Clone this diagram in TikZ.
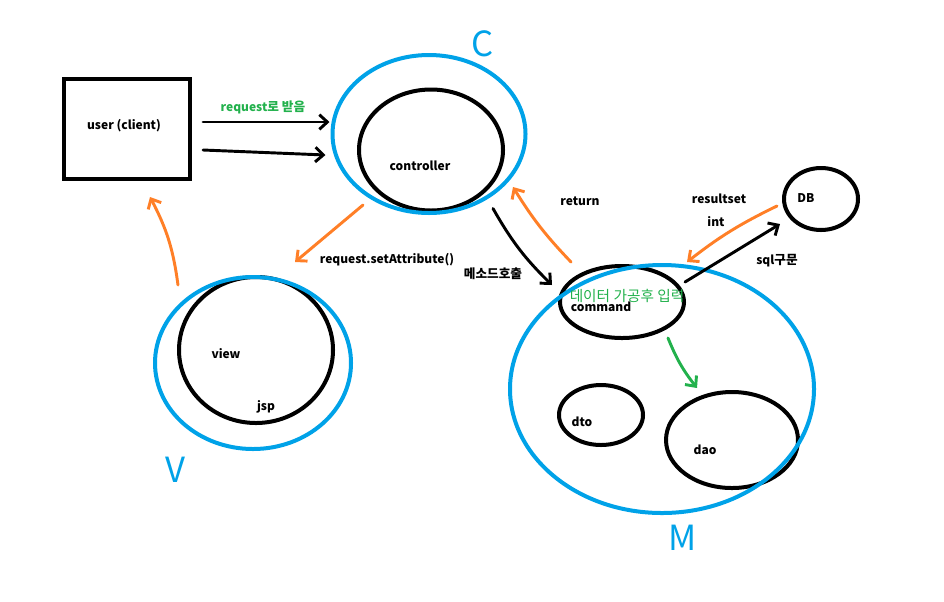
\documentclass[tikz,border=0pt]{standalone}
\usepackage{fontspec}
\setmainfont{Noto Sans CJK KR}
\usetikzlibrary{shapes.geometric,arrows.meta,calc}
\definecolor{paintblue}{RGB}{0,162,232}
\definecolor{paintorange}{RGB}{255,127,39}
\definecolor{paintgreen}{RGB}{34,177,76}
\newcommand{\kor}[1]{{\fontsize{9.5}{11}\selectfont #1}}

\begin{document}
\begin{tikzpicture}[x=0.75pt,y=-0.75pt,
    font=\bfseries\fontsize{9}{11}\selectfont,
    sz/.style 2 args={minimum width=#1*0.75pt,minimum height=#2*0.75pt},
    part/.style={ellipse,draw,line width=3pt,inner sep=0pt},
    layer/.style={ellipse,draw=paintblue,line width=3pt,inner sep=0pt},
    letter/.style={text=paintblue,font=\mdseries\fontsize{26}{26}\selectfont},
    flow/.style={line width=2.2pt,line cap=round,-{Straight Barb[length=6pt,width=11pt]}}]
        \useasboundingbox (0,0) rectangle (944,601);
        % boxes
        \draw (127,129) node[draw,line width=3pt,sz={126}{100}](user){};
        \draw (431,150) node[part,sz={144}{121}](ctrl){};
        \draw (256,350) node[part,sz={154}{146}](view){};
        \draw (622,302) node[part,sz={124}{72}](cmd){};
        \draw (601,415) node[part,sz={84}{60}](dto){};
        \draw (732,440) node[part,sz={132}{96}](dao){};
        \draw (821,199) node[part,sz={74}{62}](db){};
        \draw (429,134) node[layer,sz={193}{158}](cl){};
        \draw (253,363) node[layer,sz={196}{172}](vl){};
        \draw (662,389) node[layer,sz={304}{248}](ml){};
        % texts
        \node (usertxt) at (124,126) {user (client)};
        \node (ctrltxt) at (420,166) {controller};
        \node (viewtxt) at (226,354) {view};
        \node (jsptxt) at (266,407) {jsp};
        \node (cmdtxt) at (601,307) {command};
        \node (dtotxt) at (582,422) {dto};
        \node (daotxt) at (705,450) {dao};
        \node (dbtxt) at (806,198) {DB};
        \node[letter] (ctag) at (483,44) {C};
        \node[letter] (vtag) at (175,470) {V};
        \node[letter] (mtag) at (683,538) {M};
        % arrows
        \draw[flow] ($(user.east)+(11,-7)$) -- ($(cl.west)+(-1,-12)$);
        \draw[flow] ($(user.east)+(11,21)$) -- ($(cl.west)+(-5,21)$);
        \draw[flow,paintorange] ($(cl.south)+(-66,-10)$) -- ($(vl.north)+(42,-13)$);
        \draw[flow,paintorange] ($(vl.north)+(-75,10)$) to[bend right=10] ($(user.south)+(23,16)$);
        \draw[flow] ($(ctrl.south)+(62,-4)$) to[bend right=8] ($(cmd.west)+(-6,-17)$);
        \draw[flow,paintorange] ($(cmd.north)+(-51,-2)$) to[bend left=6] ($(cl.south)+(84,-28)$);
        \draw[flow] ($(cmd.east)+(-1,-20)$) -- ($(db.west)+(-2,25)$);
        \draw[flow,paintorange] ($(db.west)+(-5,7)$) to[bend right=6] ($(cmd.north)+(65,-2)$);
        \draw[flow,paintgreen] ($(cmd.south)+(46,-2)$) to[bend right=8] ($(dao.north)+(-35,-2)$);
        % arrow labels
        \node[text=paintgreen] (reqtxt) at (263,107) {request\kor{로 받음}};
        \node (settxt) at (387,260) {request.setAttribute()};
        \node (calltxt) at (493,274) {\kor{메소드호출}};
        \node (rettxt) at (580,201) {return};
        \node (rstxt) at (719,199) {resultset};
        \node (inttxt) at (716,222) {int};
        \node (sqltxt) at (777,261) {sql\kor{구문}};
        \node[text=paintgreen,font=\mdseries\fontsize{11}{13}\selectfont] (proctxt) at (627,296) {데이터 가공후 입력};
\end{tikzpicture}
\end{document}
